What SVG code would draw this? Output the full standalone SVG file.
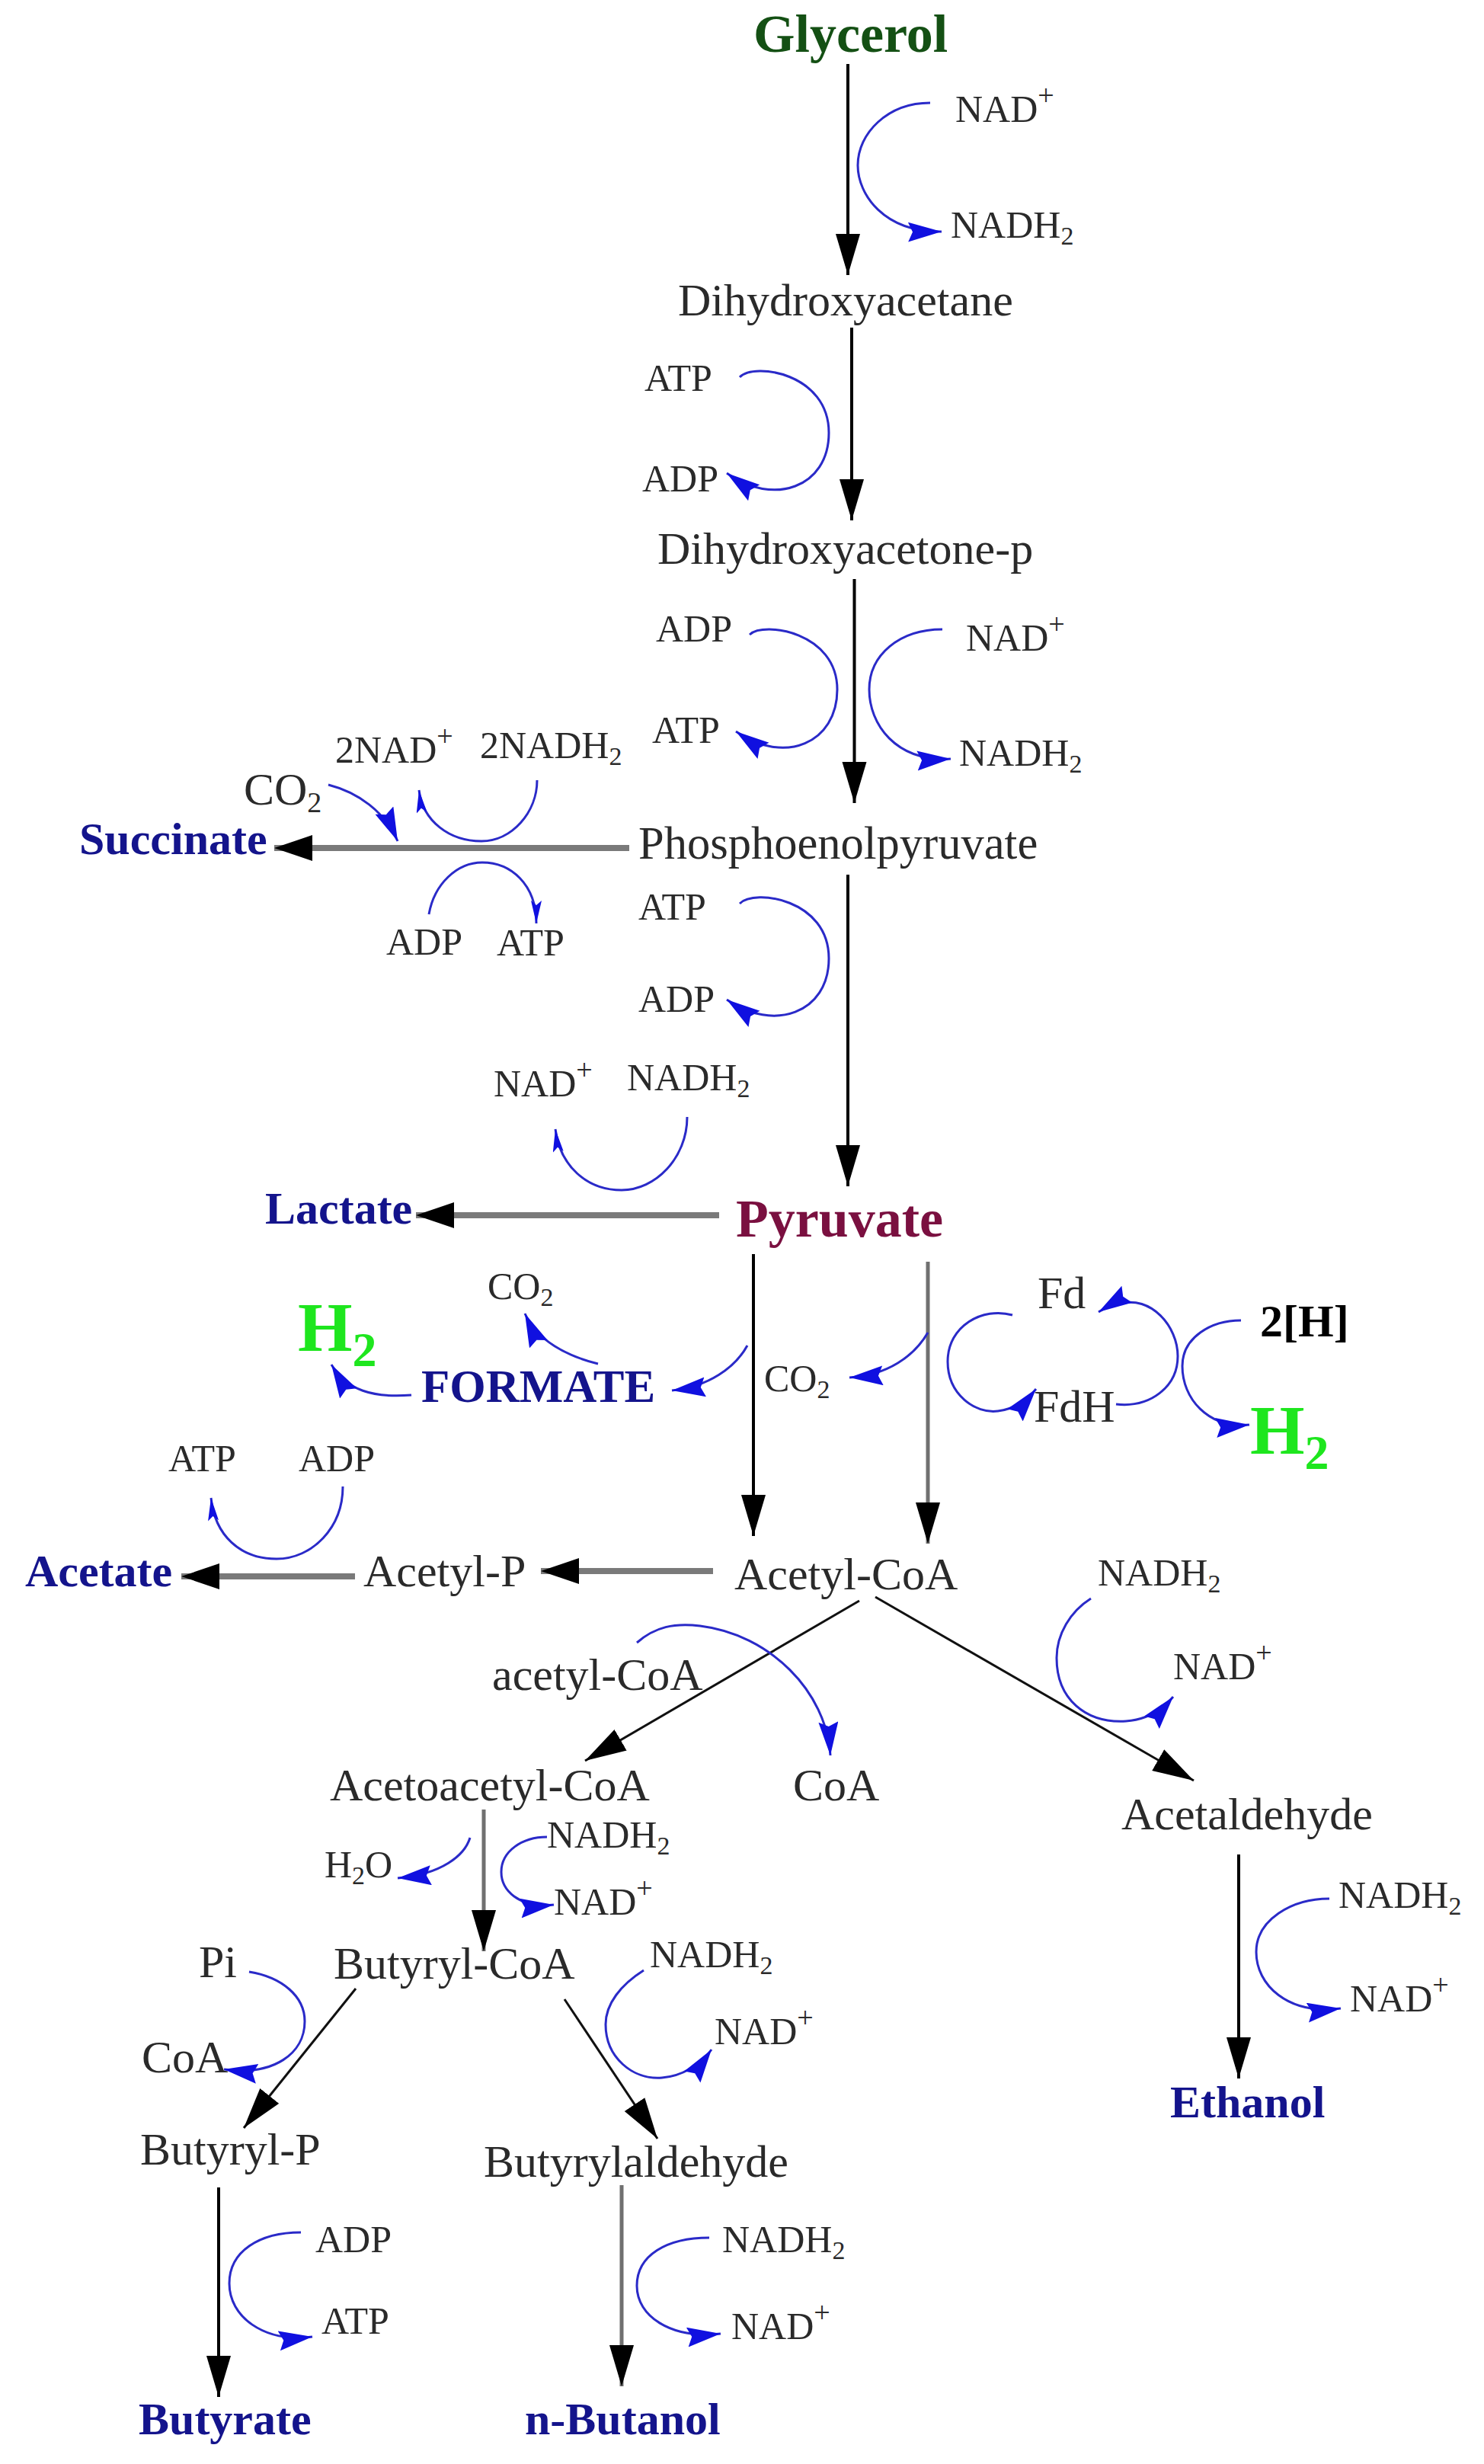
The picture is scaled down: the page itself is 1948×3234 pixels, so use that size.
<svg xmlns="http://www.w3.org/2000/svg" width="1948" height="3234" viewBox="0 0 1948 3234">
<style>
text{font-family:"Liberation Serif","Times New Roman",serif;fill:#2a2a2a}
.s{font-size:50px}.m{font-size:60px}
.b{font-weight:700;font-size:60px;fill:#14148c}
.v{font-size:34px}
.p{font-size:38px}
.k{fill:none;stroke:#000;stroke-width:4;marker-end:url(#kh)}
.d{fill:none;stroke:#111;stroke-width:3;marker-end:url(#kh)}
.g{fill:none;stroke:#707070;stroke-width:5;marker-end:url(#kh)}
.t{fill:none;stroke:#7a7a7a;stroke-width:8;marker-end:url(#kw)}
.c{fill:none;stroke:#2a2ac8;stroke-width:3;marker-end:url(#bh)}
.n{fill:none;stroke:#2a2ac8;stroke-width:3;marker-end:url(#bn)}
.h{font-weight:700;font-size:92px;fill:#1ee61e}
.hs{font-size:64px}
</style>
<defs>
<marker id="kh" markerUnits="userSpaceOnUse" markerWidth="58" markerHeight="36" refX="54" refY="16" orient="auto"><path d="M0 0L54 16L0 32Z" fill="#000"/></marker>
<marker id="kw" markerUnits="userSpaceOnUse" markerWidth="54" markerHeight="38" refX="50" refY="17" orient="auto"><path d="M0 0L50 17L0 34Z" fill="#000"/></marker>
<marker id="bh" markerUnits="userSpaceOnUse" markerWidth="48" markerHeight="28" refX="44" refY="13" orient="auto"><path d="M0 0L44 13L0 26L6 13Z" fill="#1010e0"/></marker>
<marker id="bn" markerUnits="userSpaceOnUse" markerWidth="34" markerHeight="16" refX="30" refY="7" orient="auto"><path d="M0 0L30 7L0 14L6 7Z" fill="#1010e0"/></marker>
</defs>
<rect width="1948" height="3234" fill="#fff"/>
<g id="connectors">
<path class="k" d="M1113 84V361"/>
<path class="k" d="M1118 430V683"/>
<path class="k" d="M1121.500 760V1054"/>
<path class="k" d="M1113 1148V1557"/>
<path class="k" d="M989 1646V2016"/>
<path class="g" d="M1218 1656V2026"/>
<path class="d" d="M1128 2101L768 2311"/>
<path class="d" d="M1149 2096L1567 2337"/>
<path class="k" d="M1626 2434V2728"/>
<path class="g" d="M635 2375V2561"/>
<path class="d" d="M467 2610L320 2793"/>
<path class="d" d="M741 2624L863 2807"/>
<path class="k" d="M287 2871V3146"/>
<path class="g" d="M816 2868V3132"/>
<path class="t" d="M826 1113H360"/>
<path class="t" d="M944 1595H546"/>
<path class="t" d="M466 2069H238"/>
<path class="t" d="M936 2062H710"/>
<path class="c" d="M1221 135C1165 135 1126 175 1126 217C1126 255 1160 305 1236 304"/>
<path class="c" d="M971 495C990 475 1088 490 1088 568C1088 640 1015 665 954 621"/>
<path class="c" d="M984 833C1003 815 1099 830 1099 905C1099 975 1030 1005 966 960"/>
<path class="c" d="M1237 826C1180 826 1141 860 1141 905C1141 950 1175 1000 1248 996"/>
<path class="c" d="M431 1030C470 1040 505 1065 522 1104"/>
<path class="n" d="M705 1024C705 1066 672 1104 632 1104C590 1104 555 1078 550 1037"/>
<path class="n" d="M563 1200C570 1160 600 1132 633 1132C670 1132 704 1160 704 1212"/>
<path class="c" d="M971 1186C990 1166 1088 1180 1088 1258C1088 1330 1015 1355 954 1312"/>
<path class="n" d="M902 1466C902 1520 860 1562 816 1562C770 1562 735 1530 729 1482"/>
<path class="c" d="M981 1766C965 1795 930 1820 882 1825"/>
<path class="c" d="M785 1790C745 1780 705 1760 689 1724"/>
<path class="c" d="M540 1831C490 1835 455 1825 435 1791"/>
<path class="c" d="M1218 1749C1200 1780 1165 1805 1115 1808"/>
<path class="c" d="M1329 1726C1290 1715 1244 1740 1244 1787C1244 1830 1280 1856 1310 1852C1330 1850 1348 1838 1360 1823"/>
<path class="c" d="M1465 1843C1510 1848 1546 1820 1546 1780C1546 1740 1510 1700 1470 1711C1460 1713 1450 1717 1442 1722"/>
<path class="c" d="M1629 1733C1590 1733 1552 1755 1552 1793C1552 1835 1585 1875 1640 1870"/>
<path class="n" d="M450 1951C450 2005 410 2046 363 2046C315 2046 282 2015 277 1966"/>
<path class="c" d="M1432 2098C1405 2115 1387 2145 1387 2176C1387 2230 1425 2262 1478 2259C1505 2257 1525 2245 1540 2227"/>
<path class="c" d="M836 2156C860 2135 885 2130 919 2134C1010 2145 1085 2220 1090 2304"/>
<path class="c" d="M1745 2492C1695 2492 1649 2520 1649 2562C1649 2605 1690 2645 1760 2636"/>
<path class="c" d="M617 2412C610 2435 580 2460 522 2465"/>
<path class="c" d="M718 2411C685 2411 658 2430 658 2457C658 2480 680 2505 727 2500"/>
<path class="c" d="M327 2588C370 2595 400 2620 400 2653C400 2695 360 2725 294 2716"/>
<path class="c" d="M845 2586C815 2605 795 2630 795 2657C795 2700 830 2730 869 2727C895 2725 920 2710 934 2690"/>
<path class="c" d="M395 2930C340 2930 301 2955 301 2997C301 3040 345 3075 410 3067"/>
<path class="c" d="M931 2937C875 2937 836 2960 836 3000C836 3040 880 3070 946 3063"/>
</g>
<g id="glycerol"><text x="989" y="68" font-size="70" font-weight="700" style="fill:#145014">Glycerol</text></g>
<g id="nad1"><text class="s" x="1254" y="160">NAD<tspan class="p" dy="-22">+</tspan></text></g>
<g id="nadh1"><text class="s" x="1248" y="312">NADH<tspan class="v" dy="9">2</tspan></text></g>
<g id="dihydroxyacetane"><text class="m" x="890" y="414">Dihydroxyacetane</text></g>
<g id="atp1"><text class="s" x="846" y="513">ATP</text></g>
<g id="adp1"><text class="s" x="843" y="645">ADP</text></g>
<g id="dhap"><text class="m" x="863" y="740">Dihydroxyacetone-p</text></g>
<g id="adp2"><text class="s" x="861" y="842">ADP</text></g>
<g id="atp2"><text class="s" x="856" y="975">ATP</text></g>
<g id="nad2"><text class="s" x="1268" y="854">NAD<tspan class="p" dy="-22">+</tspan></text></g>
<g id="nadh2"><text class="s" x="1259" y="1005">NADH<tspan class="v" dy="9">2</tspan></text></g>
<g id="nad3"><text class="s" x="440" y="1001">2NAD<tspan class="p" dy="-22">+</tspan></text></g>
<g id="nadh3"><text class="s" x="630" y="995">2NADH<tspan class="v" dy="9">2</tspan></text></g>
<g id="co2a"><text class="m" x="320" y="1056">CO<tspan font-size="38" dy="10">2</tspan></text></g>
<g id="succinate"><text class="b" x="104" y="1121">Succinate</text></g>
<g id="pep"><text x="838" y="1127" font-size="60.500">Phosphoenolpyruvate</text></g>
<g id="atp3"><text class="s" x="838" y="1207">ATP</text></g>
<g id="adp3"><text class="s" x="838" y="1328">ADP</text></g>
<g id="adp4"><text class="s" x="507" y="1253">ADP</text></g>
<g id="atp4"><text class="s" x="652" y="1254">ATP</text></g>
<g id="nad4"><text class="s" x="648" y="1439">NAD<tspan class="p" dy="-22">+</tspan></text></g>
<g id="nadh4"><text class="s" x="823" y="1431">NADH<tspan class="v" dy="9">2</tspan></text></g>
<g id="lactate"><text class="b" x="348" y="1606">Lactate</text></g>
<g id="pyruvate"><text x="966" y="1623" font-size="70" font-weight="700" style="fill:#7a1040">Pyruvate</text></g>
<g id="co2b"><text class="s" x="640" y="1705">CO<tspan class="v" dy="9">2</tspan></text></g>
<g id="h2a"><text class="h" x="391" y="1773">H<tspan class="hs" dy="20">2</tspan></text></g>
<g id="formate"><text class="b" x="553" y="1840" font-size="61" style="font-size:61px">FORMATE</text></g>
<g id="co2c"><text class="s" x="1003" y="1826">CO<tspan class="v" dy="9">2</tspan></text></g>
<g id="fd"><text class="m" x="1362" y="1717">Fd</text></g>
<g id="fdh"><text class="m" x="1357" y="1866">FdH</text></g>
<g id="h2h"><text x="1654" y="1754" font-size="60" font-weight="700" style="fill:#000">2[H]</text></g>
<g id="h2b"><text class="h" x="1641" y="1908">H<tspan class="hs" dy="20">2</tspan></text></g>
<g id="atp5"><text class="s" x="221" y="1931">ATP</text></g>
<g id="adp5"><text class="s" x="392" y="1931">ADP</text></g>
<g id="acetate"><text class="b" x="33" y="2082">Acetate</text></g>
<g id="acetylp"><text class="m" x="477" y="2082">Acetyl-P</text></g>
<g id="acetylcoa"><text class="m" x="964" y="2086">Acetyl-CoA</text></g>
<g id="nadh5"><text class="s" x="1441" y="2081">NADH<tspan class="v" dy="9">2</tspan></text></g>
<g id="nad5"><text class="s" x="1540" y="2204">NAD<tspan class="p" dy="-22">+</tspan></text></g>
<g id="acetylcoa2"><text class="m" x="646" y="2218">acetyl-CoA</text></g>
<g id="coa1"><text class="m" x="1041" y="2363">CoA</text></g>
<g id="acetoacetylcoa"><text class="m" x="433" y="2363">Acetoacetyl-CoA</text></g>
<g id="acetaldehyde"><text class="m" x="1472" y="2401">Acetaldehyde</text></g>
<g id="nadh6"><text class="s" x="1757" y="2504">NADH<tspan class="v" dy="9">2</tspan></text></g>
<g id="nad6"><text class="s" x="1772" y="2640">NAD<tspan class="p" dy="-22">+</tspan></text></g>
<g id="ethanol"><text class="b" x="1536" y="2779">Ethanol</text></g>
<g id="h2o"><text class="s" x="426" y="2464">H<tspan class="v" dy="9">2</tspan><tspan dy="-9">O</tspan></text></g>
<g id="nadh7"><text class="s" x="718" y="2425">NADH<tspan class="v" dy="9">2</tspan></text></g>
<g id="nad7"><text class="s" x="727" y="2513">NAD<tspan class="p" dy="-22">+</tspan></text></g>
<g id="pi"><text class="m" x="261" y="2595">Pi</text></g>
<g id="butyrylcoa"><text class="m" x="438" y="2597">Butyryl-CoA</text></g>
<g id="coa2"><text class="m" x="186" y="2720">CoA</text></g>
<g id="nadh8"><text class="s" x="853" y="2582">NADH<tspan class="v" dy="9">2</tspan></text></g>
<g id="nad8"><text class="s" x="938" y="2683">NAD<tspan class="p" dy="-22">+</tspan></text></g>
<g id="butyrylp"><text class="m" x="184" y="2841">Butyryl-P</text></g>
<g id="butyrylaldehyde"><text class="m" x="635" y="2857">Butyrylaldehyde</text></g>
<g id="adp6"><text class="s" x="414" y="2956">ADP</text></g>
<g id="atp6"><text class="s" x="422" y="3063">ATP</text></g>
<g id="nadh9"><text class="s" x="948" y="2956">NADH<tspan class="v" dy="9">2</tspan></text></g>
<g id="nad9"><text class="s" x="960" y="3070">NAD<tspan class="p" dy="-22">+</tspan></text></g>
<g id="butyrate"><text class="b" x="182" y="3195">Butyrate</text></g>
<g id="nbutanol"><text class="b" x="689" y="3195">n-Butanol</text></g>
</svg>
